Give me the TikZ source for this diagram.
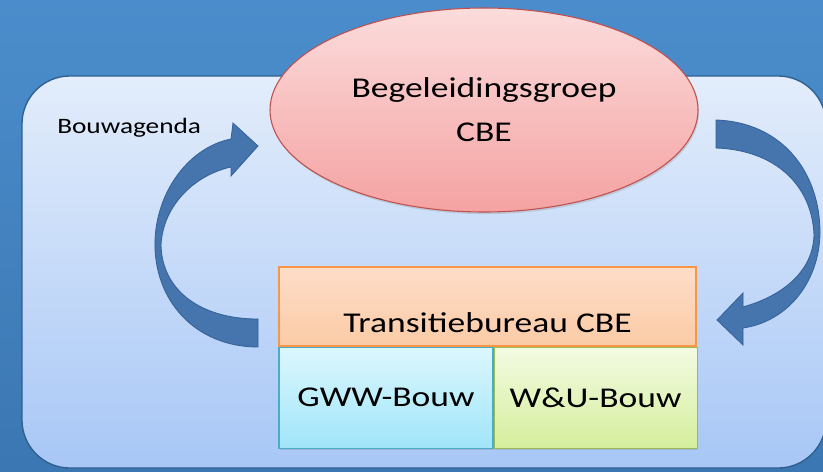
\documentclass[tikz,border=0pt]{standalone}
\usepackage{fontspec}
\setmainfont{Carlito}[FakeStretch=1.24]
\usepackage{tikz}
\usetikzlibrary{positioning, shapes.geometric, shadows}
\definecolor{sfondoAlto}{HTML}{4B8DCC}
\definecolor{sfondoBasso}{HTML}{3B77B2}
\definecolor{pannelloAlto}{HTML}{E3EDFB}
\definecolor{pannelloBasso}{HTML}{A8C7F6}
\definecolor{freccia}{HTML}{4674AC}
\definecolor{frecciaBordo}{HTML}{34609A}
\definecolor{rosaAlto}{HTML}{FCDCDC}
\definecolor{rosaBasso}{HTML}{F5A2A2}
\definecolor{rosaBordo}{HTML}{C0504D}
\definecolor{aranAlto}{HTML}{FDDDC8}
\definecolor{aranBasso}{HTML}{FBCBA6}
\definecolor{aranBordo}{HTML}{F79646}
\definecolor{azzAlto}{HTML}{DCF7FE}
\definecolor{azzBasso}{HTML}{A0E5F9}
\definecolor{azzBordo}{HTML}{4BACC6}
\definecolor{verdeAlto}{HTML}{F3FBE2}
\definecolor{verdeBasso}{HTML}{D5EE9C}
\definecolor{verdeBordo}{HTML}{9BBB59}
\newcommand{\grande}{\fontsize{21.5}{33}\selectfont}
\newcommand{\piccolo}{\fontsize{16.5}{20}\selectfont}

\begin{document}
\begin{tikzpicture}[x=0.75pt, y=-0.75pt,
    ombra/.style={drop shadow={opacity=0.25, shadow xshift=0.8pt, shadow yshift=-1.6pt}},
    groep/.style={ellipse, draw=rosaBordo, line width=0.8pt, inner sep=0pt,
        top color=rosaAlto, bottom color=rosaBasso, minimum width=321pt, minimum height=153pt,
        align=center, font=\grande, ombra},
    bureau/.style={rectangle, draw=aranBordo, line width=0.8pt, inner sep=0pt,
        top color=aranAlto, bottom color=aranBasso, minimum width=312.75pt,
        text height=48.75pt, text depth=10.5pt, font=\grande, ombra},
    afdeling/.style={rectangle, line width=0.8pt, inner sep=0pt, minimum height=75.75pt,
        font=\grande, ombra},
    pijl/.style={fill=freccia, draw=frecciaBordo, line width=0.6pt}]
    % Parametri
    \pgfmathsetmacro{\larg}{823}
    \pgfmathsetmacro{\alt}{471}
    \useasboundingbox (0,0) rectangle (\larg,\alt);
    \clip (0,0) rectangle (\larg,\alt);
    % Sfondo
    \shade[top color=sfondoAlto, bottom color=sfondoBasso] (0,0) rectangle (\larg,\alt);
    \draw[draw=sfondoBasso!80!black, line width=1pt, rounded corners=36pt,
        top color=pannelloAlto, bottom color=pannelloBasso] (22,76) rectangle (826,468);
    \node[anchor=base west, inner sep=0pt, font=\piccolo] (agenda) at (57,133) {Bouwagenda};
    % Blokken
    \node[groep] (groep) at (484,110) {Begeleidingsgroep\\CBE};
    \node[bureau] (bureau) at (487.5,306.5) {Transitiebureau CBE};
    \node[afdeling, below right=0pt and 0pt of bureau.south west, minimum width=160.5pt,
        draw=azzBordo, top color=azzAlto, bottom color=azzBasso] (gww) {GWW-Bouw};
    \node[afdeling, right=0pt of gww, minimum width=152.25pt,
        draw=verdeBordo, top color=verdeAlto, bottom color=verdeBasso] (wu) {W\&U-Bouw};
    % Frecce
    \draw[pijl] (258,347) .. controls (195,347) and (153,300) .. (155,240)
        .. controls (157,190) and (190,147) .. (231,139) -- (233,123) -- (258,146)
        -- (231,176) -- (231,167) .. controls (195,175) and (163,205) .. (161,245)
        .. controls (162,290) and (200,319) .. (258,319) -- cycle;
    \draw[pijl] (716,120) .. controls (780,122) and (820,170) .. (820,233)
        .. controls (819,285) and (785,322) .. (743,328) -- (743,345) -- (717,320)
        -- (743,293) -- (743,307) .. controls (785,295) and (813,270) .. (814,235)
        .. controls (812,185) and (775,150) .. (716,148) -- cycle;
\end{tikzpicture}
\end{document}
